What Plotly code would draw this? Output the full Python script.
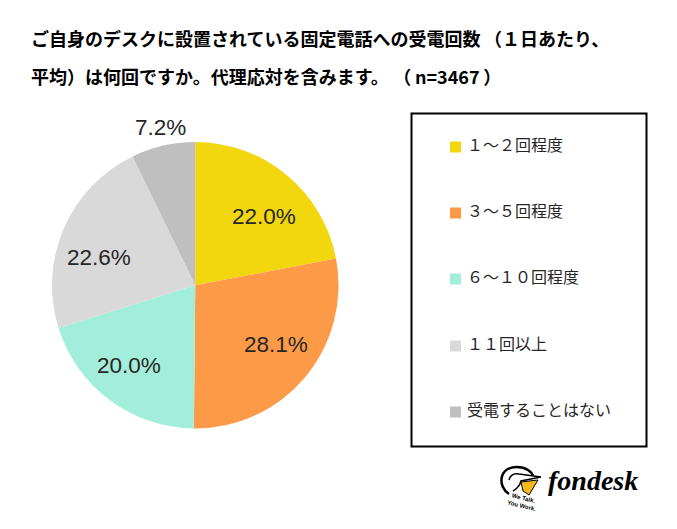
import plotly.graph_objects as go

W, H = 677, 529
title_lines = ["ご自身のデスクに設置されている固定電話への受電回数\u2009（１日あたり、",
               "平均）は何回ですか。代理応対を含みます。\u2005（\u2009n=3467\u2009）"]
labels = ["１～２回程度", "３～５回程度", "６～１０回程度", "１１回以上", "受電することはない"]
values = [22.0, 28.1, 20.0, 22.6, 7.2]
colors = ["#F2D70F", "#FD9A47", "#A3EEDA", "#D9D9D9", "#BFBFBF"]
label_xy = [(264, 216), (276, 344), (129, 366), (99, 257), (160, 128)]
legend_y = [147, 213, 279, 346, 412]
JP = "Noto Sans CJK JP"

def px(x): return x / W
def py(y): return 1 - y / H

fig = go.Figure(go.Pie(
    labels=labels, values=values, sort=False, direction="clockwise", rotation=0,
    marker=dict(colors=colors, line=dict(width=0)),
    textinfo="none",
    domain=dict(x=[px(52), px(338.5)], y=[py(428.5), py(142)]),
    showlegend=False, hoverinfo="label+value",
))

shapes = [dict(type="rect", xref="paper", yref="paper", x0=px(411.5), x1=px(646.5), y0=py(446.5), y1=py(113.5),
               line=dict(color="black", width=2), fillcolor="rgba(0,0,0,0)")]
ann = []
for i, t in enumerate(title_lines):
    ann.append(dict(text=t, x=px(29), y=py(38 + i * 38.5), xref="paper", yref="paper", xanchor="left", yanchor="middle",
                    showarrow=False, font=dict(family=JP, size=18, color="black", weight="bold")))
for v, (x, y) in zip(values, label_xy):
    ann.append(dict(text=f"{v:.1f}%", x=px(x), y=py(y), xref="paper", yref="paper", xanchor="center", yanchor="middle",
                    showarrow=False, font=dict(family="Liberation Sans, Arial", size=22.5, color="#262626")))
for lab, col, y in zip(labels, colors, legend_y):
    shapes.append(dict(type="rect", xref="paper", yref="paper", x0=px(450), x1=px(461), y0=py(y + 5.5), y1=py(y - 5.5),
                       line=dict(width=0), fillcolor=col))
    ann.append(dict(text=lab, x=px(465), y=py(y - 3), xref="paper", yref="paper", xanchor="left", yanchor="middle",
                    showarrow=False, font=dict(family=JP, size=16, color="#262626")))

# logo
shapes.append(dict(type="path", xref="paper", yref="paper",
    path="M %f %f C %f %f %f %f %f %f C %f %f %f %f %f %f" % (
        px(509), py(494), px(497), py(486), px(499), py(467), px(517), py(467),
        px(526), py(467), px(532), py(472), px(533), py(476)),
    line=dict(color="black", width=2.5)))
shapes.append(dict(type="path", xref="paper", yref="paper",
    path="M %f %f C %f %f %f %f %f %f L %f %f L %f %f C %f %f %f %f %f %f" % (
        px(509), py(480), px(510), py(476), px(513), py(473), px(519), py(474),
        px(541), py(477), px(521), py(481),
        px(520), py(486), px(515), py(490), px(513), py(491)),
    line=dict(color="black", width=1.5), fillcolor="white"))
shapes.append(dict(type="path", xref="paper", yref="paper",
    path="M %f %f L %f %f L %f %f L %f %f Z" % (
        px(521), py(482), px(538), py(480), px(529), py(495), px(523), py(491)),
    fillcolor="#F2B91C", line=dict(color="black", width=1)))
ann.append(dict(text="<i><b>fondesk</b></i>", x=px(593), y=py(480), xref="paper", yref="paper", xanchor="center", yanchor="middle",
                showarrow=False, font=dict(family="Liberation Serif", size=28, color="black")))
ann.append(dict(text="<b>We Talk.<br>You Work.</b>", x=px(522), y=py(502), xref="paper", yref="paper", xanchor="center", yanchor="middle",
                showarrow=False, textangle=14, font=dict(family="Liberation Sans", size=6, color="black")))

fig.update_layout(width=W, height=H, margin=dict(l=0, r=0, t=0, b=0), paper_bgcolor="white",
                  shapes=shapes, annotations=ann)
fig.write_html("out.html", config=dict(displayModeBar=False),
               post_script="document.body.style.margin='0';document.body.style.overflow='hidden';")
